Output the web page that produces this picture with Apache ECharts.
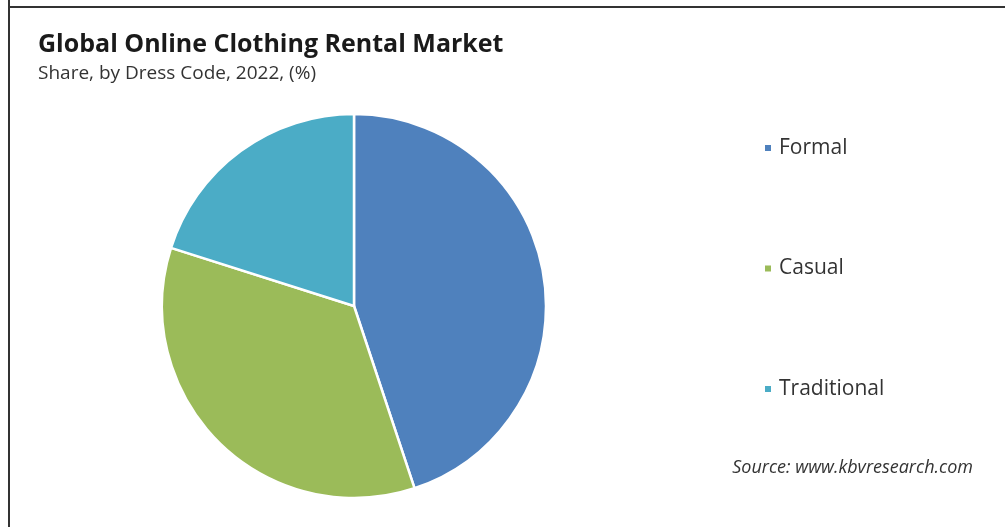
<!DOCTYPE html>
<html>
<head>
<meta charset="utf-8">
<script src="https://cdn.jsdelivr.net/npm/echarts@6/dist/echarts.min.js"></script>
<style>
html,body{margin:0;padding:0;background:#fff;}
#c{width:1005px;height:527px;}
</style>
</head>
<body>
<div id="c"></div>
<script>
const categories = ['Formal', 'Casual', 'Traditional'];
const shares = [44.9, 35.0, 20.1];
const colors = ['#4F81BD', '#9BBB59', '#4BACC6'];

const chart = echarts.init(document.getElementById('c'));
const FONT = '"Open Sans", Lato, sans-serif';
chart.setOption({
  backgroundColor: '#fff',
  animation: false,
  title: {
    text: 'Global Online Clothing Rental Market',
    subtext: 'Share, by Dress Code, 2022, (%)',
    left: 33, top: 25,
    itemGap: 3,
    textStyle: { fontFamily: FONT, fontWeight: 'bold', fontSize: 25, lineHeight: 30, color: '#1a1a1a' },
    subtextStyle: { fontFamily: FONT, fontSize: 19, lineHeight: 22, color: '#333' }
  },
  legend: {
    orient: 'vertical',
    left: 758, top: 131,
    itemWidth: 8, itemHeight: 8,
    itemGap: 96.5,
    icon: 'rect',
    data: categories,
    textStyle: { fontFamily: FONT, fontSize: 21, lineHeight: 24, color: '#333', padding: [0, 0, 0, 2] }
  },
  graphic: [
    { type: 'line', shape: { x1: 9, y1: 0, x2: 9, y2: 527 }, style: { stroke: '#333', lineWidth: 2 } },
    { type: 'line', shape: { x1: 9, y1: 7, x2: 1005, y2: 7 }, style: { stroke: '#333', lineWidth: 2 } },
    { type: 'text', right: 32, top: 459, style: { text: 'Source: www.kbvresearch.com', font: 'italic 18px "Open Sans", Lato, sans-serif', fill: '#333' } }
  ],
  series: [{
    type: 'pie',
    center: [354, 306],
    radius: 192,
    startAngle: 90,
    clockwise: true,
    label: { show: false },
    labelLine: { show: false },
    itemStyle: { borderColor: '#fff', borderWidth: 2.5 },
    data: categories.map((n, i) => ({ name: n, value: shares[i], itemStyle: { color: colors[i] } }))
  }]
});
</script>
</body>
</html>
